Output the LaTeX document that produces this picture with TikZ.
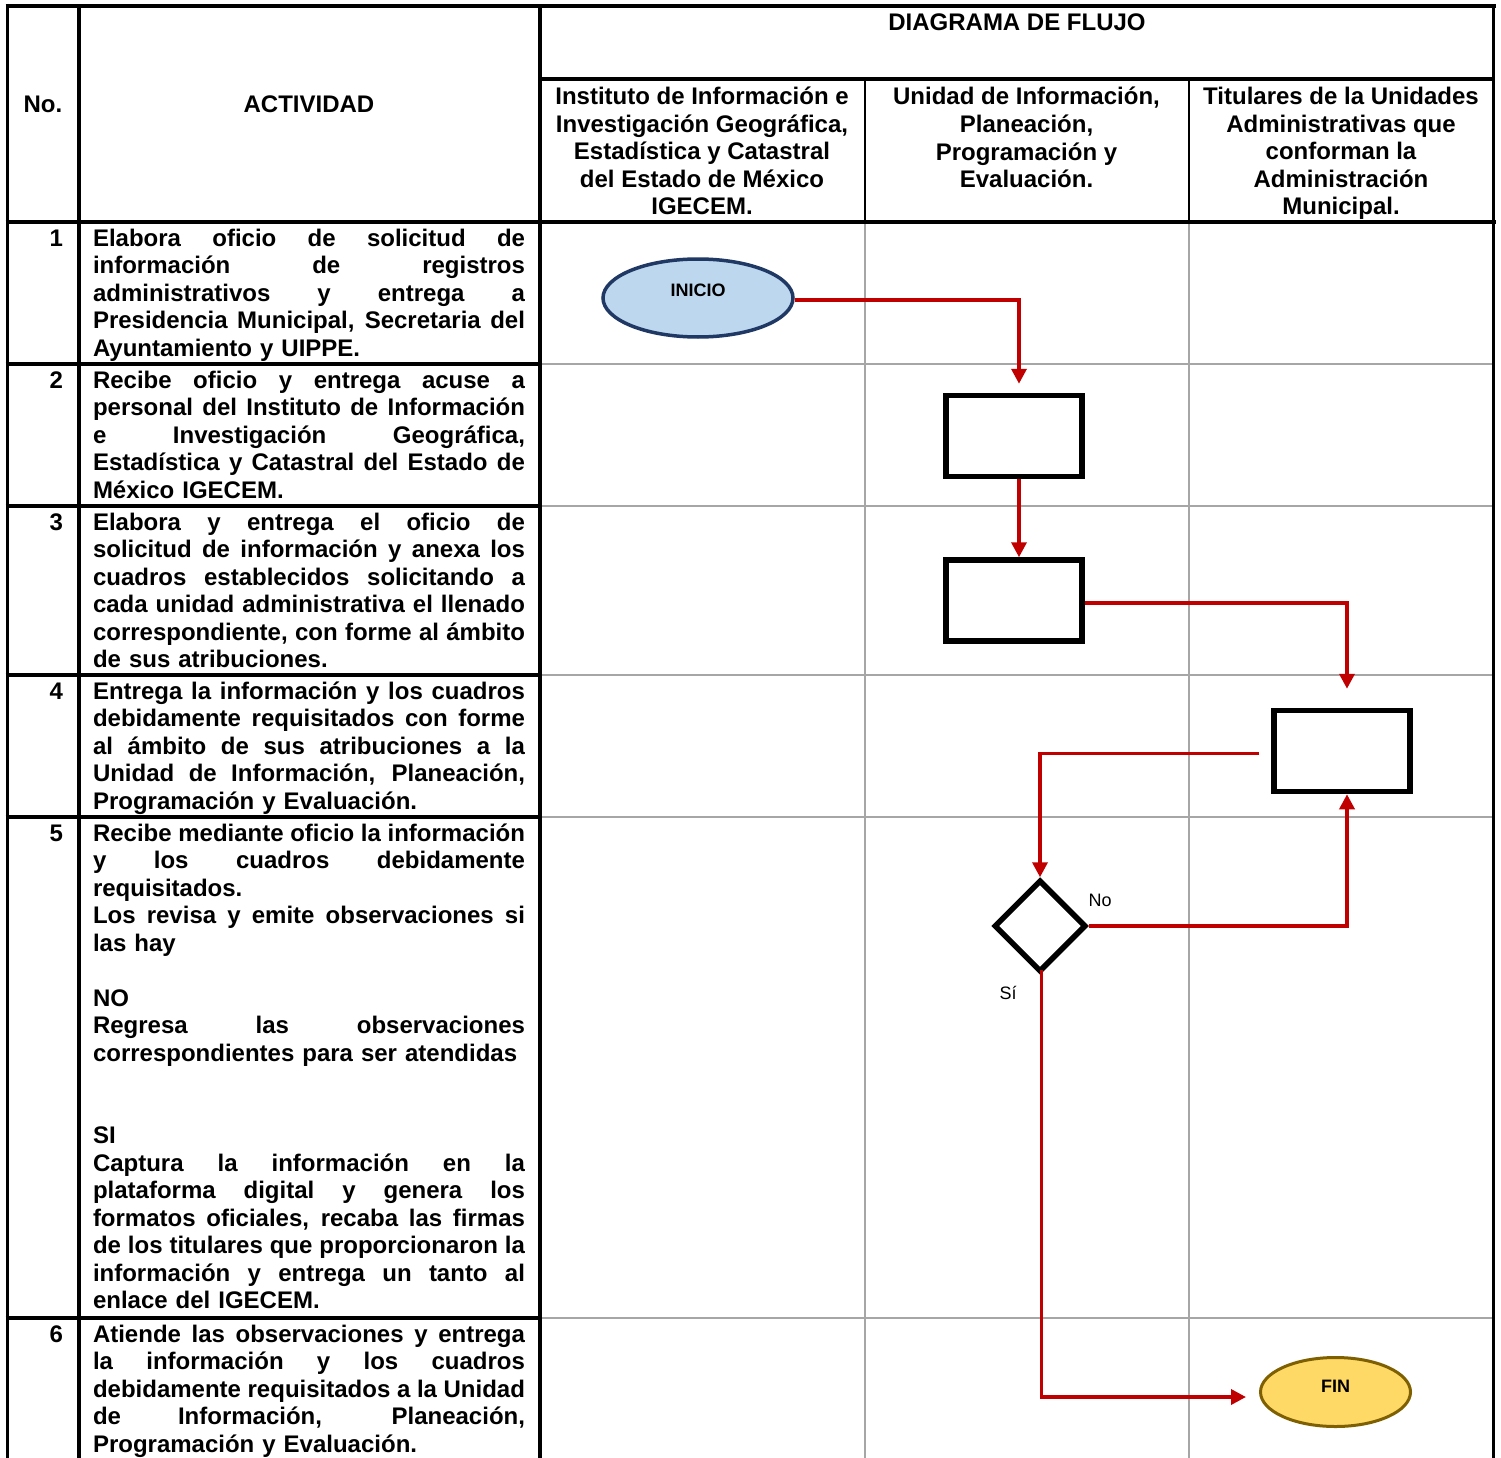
\documentclass[tikz,border=0pt]{standalone}
\usepackage{fontspec}
\setmainfont{Liberation Sans}
\usetikzlibrary{shapes.geometric,arrows.meta}

\definecolor{flowred}{HTML}{C00000}
\definecolor{gridgray}{HTML}{A6A6A6}
\definecolor{startfill}{HTML}{BDD7EE}
\definecolor{startline}{HTML}{203864}
\definecolor{endfill}{HTML}{FFD966}
\definecolor{endline}{HTML}{7F6000}

% bold body text, 24pt on a 27.5pt baseline
\newcommand\bodyfont{\fontsize{24}{27.5}\selectfont\bfseries\parindent=0pt}
% one fully justified line of the activity column (stretchable spaces)
\newcommand\jl[1]{\makebox[432pt][s]{\spaceskip=0pt\xspaceskip=0pt #1}}

\begin{document}
\begin{tikzpicture}[x=1pt,y=-1pt,
  rule/.style={line width=4pt,black},
  edge/.style={line width=3.5pt,black},
  thinrule/.style={line width=2pt,black},
  gridline/.style={line width=2pt,gridgray},
  body/.style={inner sep=0pt,outer sep=0pt,font=\bodyfont},
  activity/.style={body,anchor=north west,text width=432pt,align=left},
  stepno/.style={body,anchor=base east},
  lanehead/.style={body,anchor=north,align=center},
  procbox/.style={draw,line width=5.5pt,minimum width=136pt,minimum height=81pt,inner sep=0pt},
  decision/.style={draw,diamond,line width=5.5pt,minimum width=92pt,minimum height=92pt,inner sep=0pt},
  terminal/.style={ellipse,inner sep=0pt,font=\fontsize{18}{20}\selectfont\bfseries},
  flow/.style={draw=flowred,line width=3.5pt,-{Triangle[length=15pt,width=15pt]}},
  branch/.style={inner sep=0pt,font=\fontsize{18}{20}\selectfont},
]
\useasboundingbox (0,0) rectangle (1501,1458);

% ---------- grid of the flow lanes ----------
\foreach \y in {363.5,505.5,674.5,816.5,1317.5}
  \draw[gridline] (540,\y) -- (1493.5,\y);
\foreach \x in {864.5,1189}
  \draw[gridline] (\x,222) -- (\x,1458);
\foreach \x in {864.5,1189}
  \draw[thinrule] (\x,79) -- (\x,222);

% ---------- table frame ----------
\draw[edge] (7.5,4) -- (7.5,1458);
\draw[edge] (1493.5,4) -- (1493.5,1458);
\draw[rule] (5.5,6) -- (1495.5,6);
\draw[rule] (79,6) -- (79,1458);
\draw[rule] (540,6) -- (540,1458);
\draw[rule] (540,79) -- (1495,79);
\draw[rule] (5.5,222) -- (1495.5,222);
\foreach \y in {363.5,505.5,674.5,816.5,1317.5}
  \draw[rule] (5.5,\y) -- (540,\y);

% ---------- headings ----------
\node[body,anchor=base] (hno) at (43,113) {No.};
\node[body,anchor=base] (hact) at (309,113) {ACTIVIDAD};
\node[body,anchor=base] (hflow) at (1017,31) {DIAGRAMA DE FLUJO};
\node[lanehead] (lane1) at (702,85.75) {\strut Instituto de Información e\\Investigación Geográfica,\\Estadística y Catastral\\del Estado de México\\IGECEM.};
\node[lanehead] (lane2) at (1026.5,85.75) {\strut Unidad de Información,\\Planeación,\\Programación y\\Evaluación.};
\node[lanehead] (lane3) at (1341,85.75) {\strut Titulares de la Unidades\\Administrativas que\\conforman la\\Administración\\Municipal.};

% ---------- activities ----------
\node[stepno] (n1) at (63,246) {1};
\node[activity] (a1) at (93,226.75) {\strut\jl{Elabora oficio de solicitud de}\\
\jl{información de registros}\\
\jl{administrativos y entrega a}\\
\jl{Presidencia Municipal, Secretaria del}\\
Ayuntamiento y UIPPE.};

\node[stepno] (n2) at (63,388) {2};
\node[activity] (a2) at (93,368.75) {\strut\jl{Recibe oficio y entrega acuse a}\\
\jl{personal del Instituto de Información}\\
\jl{e Investigación Geográfica,}\\
\jl{Estadística y Catastral del Estado de}\\
México IGECEM.};

\node[stepno] (n3) at (63,530) {3};
\node[activity] (a3) at (93,510.75) {\strut\jl{Elabora y entrega el oficio de}\\
\jl{solicitud de información y anexa los}\\
\jl{cuadros establecidos solicitando a}\\
\jl{cada unidad administrativa el llenado}\\
\jl{correspondiente, con forme al ámbito}\\
de sus atribuciones.};

\node[stepno] (n4) at (63,699) {4};
\node[activity] (a4) at (93,679.75) {\strut\jl{Entrega la información y los cuadros}\\
\jl{debidamente requisitados con forme}\\
\jl{al ámbito de sus atribuciones a la}\\
\jl{Unidad de Información, Planeación,}\\
Programación y Evaluación.};

\node[stepno] (n5) at (63,841) {5};
\node[activity] (a5) at (93,821.75) {\strut\jl{Recibe mediante oficio la información}\\
\jl{y los cuadros debidamente}\\
requisitados.\\
\jl{Los revisa y emite observaciones si}\\
las hay\\
\strut\\
NO\\
\jl{Regresa las observaciones}\\
correspondientes para ser atendidas\\
\strut\\
\strut\\
SI\\
\jl{Captura la información en la}\\
\jl{plataforma digital y genera los}\\
\jl{formatos oficiales, recaba las firmas}\\
\jl{de los titulares que proporcionaron la}\\
\jl{información y entrega un tanto al}\\
enlace del IGECEM.};

\node[stepno] (n6) at (63,1342) {6};
\node[activity] (a6) at (93,1322.75) {\strut\jl{Atiende las observaciones y entrega}\\
\jl{la información y los cuadros}\\
\jl{debidamente requisitados a la Unidad}\\
\jl{de Información, Planeación,}\\
Programación y Evaluación.};

% ---------- flow chart ----------
\node[terminal,draw=startline,fill=startfill,line width=3.5pt,
      minimum width=190pt,minimum height=78pt] (start) at (698,298)
      {\raisebox{1.5pt}[0pt][0pt]{INICIO}};
\node[procbox] (box1) at (1014,436) {};
\node[procbox] (box2) at (1014,600.5) {};
\node[procbox] (box3) at (1342,751) {};
\node[decision] (dec) at (1040,926) {};
\node[terminal,draw=endline,fill=endfill,line width=3pt,
      minimum width=150pt,minimum height=69pt] (end) at (1335.5,1392)
      {\raisebox{-0.5pt}[0pt][0pt]{FIN}};

\node[branch] (nolbl) at (1100,900) {No};
\node[branch] (silbl) at (1008,993) {Sí};

\draw[flow] ([yshift=-2pt]start.east) -| ([xshift=5pt,yshift=9pt]box1.north);
\draw[flow] ([xshift=5pt]box1.south) -- ([xshift=5pt]box2.north);
\draw[flow] ([yshift=-2.5pt]box2.east) -| ([xshift=5pt,yshift=19pt]box3.north);
\draw[flow] ([xshift=-12pt,yshift=-2.5pt]box3.west) -| (dec.north);
\draw[flow] (dec.east) -| ([xshift=5pt]box3.south);
\draw[flow] ([xshift=1.5pt,yshift=5pt]dec.south) |- ([xshift=-13pt,yshift=-5pt]end.west);
\end{tikzpicture}
\end{document}
